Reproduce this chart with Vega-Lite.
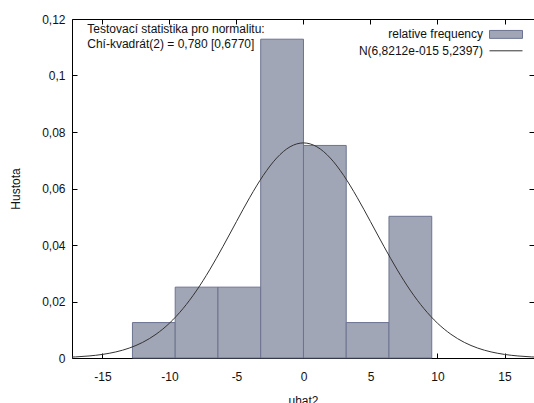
{
  "$schema": "https://vega.github.io/schema/vega-lite/v6.json",
  "width": 462,
  "height": 339,
  "autosize": "none",
  "padding": {"left": 72, "top": 19, "right": 0, "bottom": 45},
  "datasets": {
    "bins": [
      {"start": -12.76, "end": -9.57, "density": 0.01254},
      {"start": -9.57, "end": -6.38, "density": 0.02508},
      {"start": -6.38, "end": -3.19, "density": 0.02508},
      {"start": -3.19, "end": 0.0, "density": 0.11285},
      {"start": 0.0, "end": 3.19, "density": 0.07524},
      {"start": 3.19, "end": 6.38, "density": 0.01254},
      {"start": 6.38, "end": 9.57, "density": 0.05016}
    ],
    "curve": [
      {"x": -17.5, "y": 0.00029}, {"x": -17, "y": 0.00039}, {"x": -16, "y": 0.00072},
      {"x": -15, "y": 0.00127}, {"x": -14, "y": 0.00215}, {"x": -13, "y": 0.00351},
      {"x": -12, "y": 0.00553}, {"x": -11, "y": 0.00841}, {"x": -10, "y": 0.01232},
      {"x": -9, "y": 0.01742}, {"x": -8, "y": 0.02373}, {"x": -7, "y": 0.03119},
      {"x": -6, "y": 0.03953}, {"x": -5, "y": 0.04829}, {"x": -4, "y": 0.05689},
      {"x": -3, "y": 0.06463}, {"x": -2, "y": 0.07079}, {"x": -1, "y": 0.07477},
      {"x": 0, "y": 0.07614}, {"x": 1, "y": 0.07477}, {"x": 2, "y": 0.07079},
      {"x": 3, "y": 0.06463}, {"x": 4, "y": 0.05689}, {"x": 5, "y": 0.04829},
      {"x": 6, "y": 0.03953}, {"x": 7, "y": 0.03119}, {"x": 8, "y": 0.02373},
      {"x": 9, "y": 0.01742}, {"x": 10, "y": 0.01232}, {"x": 11, "y": 0.00841},
      {"x": 12, "y": 0.00553}, {"x": 13, "y": 0.00351}, {"x": 14, "y": 0.00215},
      {"x": 15, "y": 0.00127}, {"x": 16, "y": 0.00072}, {"x": 17, "y": 0.00039},
      {"x": 17.5, "y": 0.00029}
    ],
    "note": [
      {"line1": "Testovací statistika pro normalitu:", "line2": "Chí-kvadrát(2) = 0,780 [0,6770]"}
    ]
  },
  "config": {
    "font": "Liberation Sans",
    "view": {"stroke": "#000000", "strokeWidth": 1},
    "locale": {
      "number": {"decimal": ",", "thousands": " ", "grouping": [3], "currency": ["", ""], "minus": "-"}
    },
    "axis": {
      "labelFont": "Liberation Sans",
      "labelFontSize": 12,
      "labelColor": "#111111",
      "titleFont": "Liberation Sans",
      "titleFontSize": 12,
      "titleFontWeight": "normal",
      "titleColor": "#111111",
      "tickColor": "#000000",
      "tickSize": -5,
      "grid": false,
      "domain": false
    },
    "legend": {
      "labelFont": "Liberation Sans",
      "labelFontSize": 12,
      "labelColor": "#111111",
      "padding": 0
    }
  },
  "resolve": {"axis": {"x": "independent", "y": "independent"}},
  "layer": [
    {
      "data": {"name": "bins"},
      "mark": {"type": "rect", "stroke": "#6c7390", "strokeWidth": 1},
      "encoding": {
        "x": {
          "field": "start", "type": "quantitative",
          "scale": {"domain": [-17.27, 17.2], "nice": false, "zero": false},
          "axis": {"orient": "bottom", "values": [-15, -10, -5, 0, 5, 10, 15], "format": "d", "labelPadding": 18, "title": "uhat2", "titlePadding": 13}
        },
        "x2": {"field": "end"},
        "y": {
          "field": "density", "type": "quantitative",
          "scale": {"domain": [0, 0.12], "nice": false, "zero": true},
          "axis": {"orient": "left", "values": [0, 0.02, 0.04, 0.06, 0.08, 0.1, 0.12], "format": ".2~f", "labelPadding": 12, "title": "Hustota", "titlePadding": 19}
        },
        "fill": {
          "datum": "relative frequency",
          "scale": {"range": ["#a1a6b6"]},
          "legend": {
            "title": null, "orient": "none", "legendX": 417, "legendY": -1.6,
            "symbolType": "M-1,-0.24H1V0.24H-1Z", "symbolSize": 1089,
            "symbolStrokeColor": "#6c7390", "symbolStrokeWidth": 1, "symbolOpacity": 1,
            "labelAlign": "right", "labelOffset": -40
          }
        }
      }
    },
    {
      "data": {"name": "curve"},
      "mark": {"type": "line", "interpolate": "monotone", "strokeWidth": 1, "clip": true},
      "encoding": {
        "x": {
          "field": "x", "type": "quantitative",
          "scale": {"domain": [-17.27, 17.2], "nice": false, "zero": false},
          "axis": {"orient": "top", "values": [-15, -10, -5, 0, 5, 10, 15], "labels": false, "title": null}
        },
        "y": {
          "field": "y", "type": "quantitative",
          "scale": {"domain": [0, 0.12], "nice": false},
          "axis": {"orient": "right", "values": [0, 0.02, 0.04, 0.06, 0.08, 0.1, 0.12], "labels": false, "title": null}
        },
        "stroke": {
          "datum": "N(6,8212e-015 5,2397)",
          "scale": {"range": ["#333333"]},
          "legend": {
            "title": null, "orient": "none", "legendX": 417, "legendY": 14.8,
            "symbolType": "stroke", "symbolSize": 1089, "symbolStrokeWidth": 1,
            "labelAlign": "right", "labelOffset": -40
          }
        }
      }
    },
    {
      "data": {"name": "note"},
      "mark": {"type": "text", "align": "left", "baseline": "alphabetic", "fontSize": 12, "lineHeight": 15, "font": "Liberation Sans", "color": "#111111"},
      "encoding": {
        "x": {"datum": -16.13, "type": "quantitative", "axis": null},
        "y": {"datum": 0.11504, "type": "quantitative", "axis": null},
        "text": {"value": ["Testovací statistika pro normalitu:", "Chí-kvadrát(2) = 0,780 [0,6770]"]}
      }
    }
  ]
}
